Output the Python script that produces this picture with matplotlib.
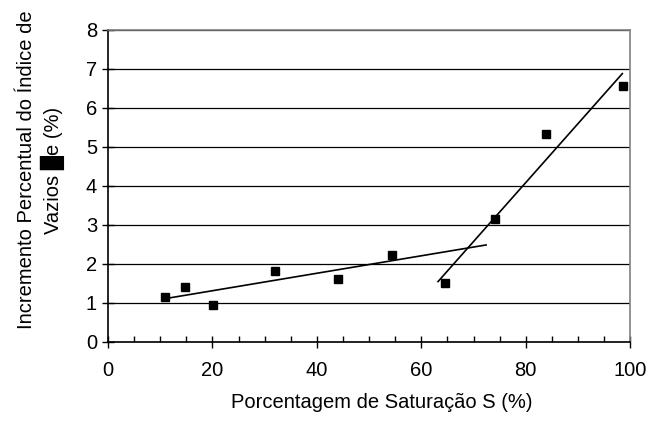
import numpy as np
import matplotlib.pyplot as plt
from matplotlib.ticker import MultipleLocator

plt.rcParams['font.family'] = ['Liberation Sans', 'DejaVu Sans']

# saturation (%) and void ratio increment (%)
saturacao = [11.0, 14.8, 20.1, 31.9, 44.1, 54.3, 64.6, 74.1, 83.9, 98.7]
incremento = [1.14, 1.40, 0.94, 1.80, 1.60, 2.21, 1.50, 3.14, 5.33, 6.55]

# points used by each trend line and the x span it is drawn over
fit_low = slice(0, 6)
fit_high = slice(6, 10)
span_low = [11.0, 72.4]
span_high = [63.2, 98.5]

x = np.asarray(saturacao)
y = np.asarray(incremento)

fig = plt.figure(figsize=(6.51, 4.28), dpi=100)
ax = fig.add_axes([0.166, 0.202, 0.802, 0.728])

for sl, span in [(fit_low, span_low), (fit_high, span_high)]:
    a, b = np.polyfit(x[sl], y[sl], 1)
    xs = np.array(span)
    ax.plot(xs, a * xs + b, color='black', lw=1.2)

ax.plot(x, y, 's', color='black', markersize=5.5)

ax.set_xlim(0, 100)
ax.set_ylim(0, 8)
ax.xaxis.set_major_locator(MultipleLocator(20))
ax.xaxis.set_minor_locator(MultipleLocator(5))
ax.yaxis.set_major_locator(MultipleLocator(1))
ax.yaxis.grid(True, color='black', lw=0.9)
ax.set_axisbelow(True)

fs = 14.5
ax.tick_params(axis='x', which='major', direction='inout', length=8, width=1, labelsize=fs, pad=10)
ax.tick_params(axis='x', which='minor', direction='in', length=4, width=1)
ax.tick_params(axis='y', direction='inout', length=8, width=1, labelsize=fs, pad=4)

for s in ['top', 'right']:
    ax.spines[s].set_color('#808080')
    ax.spines[s].set_linewidth(1.2)
for s in ['left', 'bottom']:
    ax.spines[s].set_color('black')
    ax.spines[s].set_linewidth(1.2)

ax.set_xlabel('Porcentagem de Saturação S (%)', fontsize=fs)
ax.xaxis.set_label_coords(0.525, -0.165)
ax.set_ylabel('Incremento Percentual do Índice de\nVazios \u2588e (%)', fontsize=fs,
              linespacing=1.25)
ax.yaxis.set_label_coords(-0.082, 0.55)

fig.savefig('out.png', dpi=100)
